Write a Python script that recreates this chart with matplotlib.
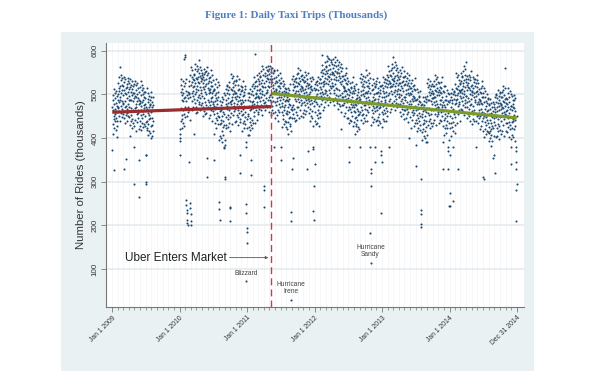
import matplotlib
matplotlib.use("Agg")
import matplotlib.pyplot as plt
import pandas as pd
from matplotlib.patches import Rectangle

# ---------------- data: daily taxi rides (thousands), one list per month -------------
r2009_01 = [372, 470, 433, 498, 463, 410, 486, 450, 513, 443, 327, 478, 423, 466, 503, 438, 455, 492, 418, 481, 461, 508, 446, 428, 473, 497, 440, 459, 402, 488, 468]
r2009_02 = [472, 527, 500, 450, 514, 540, 482, 462, 507, 563, 487, 440, 520, 495, 474, 532, 457, 504, 544, 467, 484, 522, 447, 510, 537, 478, 498, 454]
r2009_03 = [520, 480, 445, 510, 540, 462, 330, 528, 435, 504, 470, 534, 484, 514, 452, 352, 474, 500, 458, 524, 492, 440, 516, 466, 538, 478, 506, 450, 530, 486, 512]
r2009_04 = [472, 526, 448, 496, 430, 516, 486, 405, 534, 440, 506, 468, 522, 452, 488, 422, 512, 498, 444, 530, 464, 504, 434, 484, 518, 380, 492, 428, 524, 295]
r2009_05 = [504, 468, 531, 461, 496, 441, 479, 521, 416, 494, 471, 509, 454, 484, 436, 501, 526, 464, 446, 491, 514, 458, 478, 421, 506, 486, 265, 350, 516, 481, 428]
r2009_06 = [440, 485, 530, 465, 418, 498, 473, 452, 510, 435, 482, 522, 445, 462, 500, 425, 488, 515, 456, 476, 432, 495, 468, 506, 450, 505, 478, 428, 492, 362]
r2009_07 = [470, 436, 362, 300, 295, 418, 514, 440, 466, 424, 490, 458, 406, 482, 432, 504, 444, 472, 416, 496, 452, 478, 486, 446, 411, 476, 506, 428, 461, 494, 401]
r2009_08 = [460, 430, 482, 405, 470, 445, 495, 415, 475, 440]

r2010_01 = [362, 400, 410, 392, 420, 534, 440, 506, 468, 522, 452, 488, 422, 512, 498, 444, 530, 464, 504, 434, 484, 518, 454, 492, 428, 580, 590, 585, 472, 526, 448]
r2010_02 = [493, 535, 258, 508, 485, 247, 235, 498, 450, 228, 212, 205, 460, 505, 201, 472, 492, 345, 520, 500, 502, 465, 530, 495, 442, 250, 240, 545]
r2010_03 = [225, 210, 200, 522, 562, 485, 502, 540, 465, 528, 555, 496, 516, 472, 535, 508, 546, 490, 545, 518, 410, 532, 558, 500, 480, 525, 570, 505, 458, 538, 513]
r2010_04 = [470, 535, 565, 487, 520, 553, 460, 529, 495, 559, 509, 539, 477, 578, 499, 525, 483, 549, 517, 465, 541, 491, 563, 503, 531, 475, 555, 511, 537, 545]
r2010_05 = [534, 496, 550, 480, 516, 450, 540, 526, 472, 558, 492, 532, 462, 512, 546, 482, 520, 456, 552, 506, 536, 500, 554, 476, 524, 458, 544, 310, 355, 562, 468]
r2010_06 = [525, 550, 488, 470, 515, 538, 482, 502, 445, 530, 510, 512, 475, 540, 505, 452, 528, 492, 555, 485, 520, 465, 503, 545, 440, 518, 495, 533, 478, 508]
r2010_07 = [462, 482, 350, 410, 474, 512, 456, 511, 484, 434, 498, 524, 466, 446, 491, 536, 471, 424, 504, 479, 458, 516, 441, 488, 528, 451, 468, 506, 431, 494, 521]
r2010_08 = [447, 395, 254, 237, 212, 433, 461, 405, 485, 441, 467, 475, 435, 400, 465, 495, 417, 450, 483, 390, 459, 425, 489, 439, 469, 407, 503, 429, 455, 380, 378]
r2010_09 = [385, 395, 310, 305, 499, 429, 479, 513, 449, 487, 423, 519, 473, 503, 467, 521, 443, 491, 425, 511, 481, 453, 529, 435, 501, 463, 517, 447, 483, 417]
r2010_10 = [240, 243, 211, 484, 547, 477, 512, 457, 495, 537, 432, 510, 487, 525, 470, 500, 452, 517, 542, 480, 462, 507, 530, 474, 494, 437, 522, 502, 504, 467, 532]
r2010_11 = [490, 440, 504, 530, 472, 452, 497, 542, 477, 430, 510, 485, 464, 522, 447, 494, 534, 457, 474, 512, 437, 500, 320, 360, 488, 444, 507, 480, 518, 462]
r2010_12 = [477, 510, 417, 486, 452, 516, 466, 496, 434, 530, 456, 482, 440, 506, 474, 422, 498, 448, 520, 460, 488, 432, 512, 380, 390, 249, 72, 228, 193, 422, 444]

r2011_01 = [184, 159, 470, 406, 502, 456, 486, 450, 504, 426, 474, 408, 494, 464, 436, 512, 418, 484, 446, 500, 430, 466, 315, 350, 476, 422, 508, 442, 482, 520, 434]
r2011_02 = [485, 523, 468, 498, 450, 515, 540, 478, 460, 593, 528, 472, 492, 435, 520, 500, 502, 465, 530, 495, 442, 518, 482, 545, 475, 510, 455, 493]
r2011_03 = [497, 535, 460, 523, 550, 491, 511, 467, 530, 503, 541, 485, 540, 513, 463, 527, 553, 495, 475, 520, 565, 500, 453, 533, 508, 487, 545, 470, 517, 557, 480]
r2011_04 = [289, 280, 241, 499, 525, 483, 549, 517, 465, 541, 491, 563, 503, 531, 475, 555, 511, 537, 545, 505, 470, 535, 565, 487, 520, 553, 460, 529, 495, 559]
r2011_05 = [546, 516, 488, 564, 470, 536, 498, 552, 482, 518, 452, 542, 528, 474, 560, 494, 534, 464, 514, 548, 484, 522, 458, 554, 508, 538, 502, 556, 380, 526, 460]
r2011_06 = [482, 502, 445, 530, 510, 512, 475, 540, 505, 452, 528, 492, 555, 485, 520, 465, 503, 545, 440, 518, 495, 533, 478, 508, 460, 525, 550, 488, 470, 515]
r2011_07 = [500, 526, 380, 350, 493, 538, 473, 426, 506, 481, 460, 518, 443, 490, 530, 453, 470, 508, 433, 496, 523, 464, 484, 440, 503, 476, 514, 458, 513, 486, 436]
r2011_08 = [425, 505, 461, 487, 495, 455, 420, 485, 515, 437, 470, 503, 410, 479, 445, 509, 459, 489, 427, 523, 449, 475, 433, 499, 467, 415, 230, 30, 209, 445, 472]
r2011_09 = [534, 464, 330, 355, 524, 510, 456, 542, 476, 516, 446, 496, 530, 466, 504, 440, 536, 490, 520, 484, 538, 460, 508, 442, 528, 498, 470, 546, 452, 518]
r2011_10 = [560, 490, 525, 470, 508, 550, 445, 523, 500, 538, 483, 513, 465, 530, 555, 493, 475, 520, 543, 487, 507, 450, 535, 515, 517, 480, 545, 510, 457, 533, 497]
r2011_11 = [495, 448, 528, 503, 482, 540, 465, 512, 552, 475, 492, 530, 455, 518, 545, 486, 506, 462, 525, 498, 536, 480, 330, 370, 522, 548, 490, 470, 515, 485]
r2011_12 = [500, 458, 524, 492, 440, 516, 466, 538, 478, 506, 450, 530, 486, 512, 520, 480, 445, 510, 540, 462, 495, 428, 375, 233, 380, 534, 484, 514, 212, 290, 474]

r2012_01 = [340, 509, 439, 489, 523, 459, 497, 433, 529, 483, 513, 477, 531, 453, 501, 435, 521, 491, 463, 539, 445, 511, 473, 527, 457, 493, 427, 517, 503, 449, 535]
r2012_02 = [458, 536, 513, 551, 496, 526, 478, 543, 568, 506, 488, 590, 556, 500, 520, 463, 548, 528, 530, 493, 558, 523, 470, 546, 510, 573, 503, 538, 483]
r2012_03 = [553, 526, 564, 508, 563, 536, 486, 550, 576, 588, 498, 543, 584, 523, 476, 556, 531, 510, 568, 493, 540, 580, 503, 520, 558, 483, 546, 573, 514, 534, 490]
r2012_04 = [578, 518, 546, 490, 570, 526, 552, 560, 520, 485, 550, 580, 502, 535, 568, 475, 544, 510, 574, 524, 554, 492, 585, 514, 540, 498, 564, 532, 480, 548]
r2012_05 = [579, 485, 551, 513, 567, 497, 533, 467, 557, 543, 489, 575, 509, 549, 479, 529, 563, 499, 537, 473, 569, 523, 553, 420, 460, 493, 541, 475, 561, 531, 503]
r2012_06 = [493, 475, 520, 543, 487, 507, 450, 535, 515, 517, 480, 545, 510, 457, 533, 497, 560, 490, 525, 470, 508, 550, 445, 523, 500, 538, 483, 513, 465, 530]
r2012_07 = [445, 492, 345, 380, 472, 510, 435, 498, 525, 466, 486, 442, 505, 478, 516, 460, 515, 488, 438, 502, 528, 470, 450, 495, 540, 475, 428, 508, 483, 462, 520]
r2012_08 = [515, 437, 470, 503, 410, 479, 445, 509, 459, 489, 427, 523, 449, 475, 433, 499, 467, 415, 491, 441, 513, 453, 481, 425, 505, 461, 487, 495, 455, 420, 485]
r2012_09 = [490, 380, 484, 538, 460, 508, 442, 528, 498, 470, 546, 452, 518, 480, 534, 464, 500, 434, 524, 510, 456, 542, 476, 516, 446, 496, 530, 466, 504, 440]
r2012_10 = [475, 540, 505, 452, 528, 492, 555, 485, 520, 465, 503, 545, 440, 518, 495, 533, 478, 508, 460, 525, 550, 488, 470, 515, 538, 482, 502, 380, 182, 114, 290]
r2012_11 = [330, 320, 477, 430, 510, 485, 464, 522, 447, 494, 534, 457, 474, 512, 437, 500, 527, 468, 488, 444, 345, 380, 518, 462, 517, 490, 440, 504, 530, 472]
r2012_12 = [524, 474, 504, 442, 538, 464, 490, 448, 514, 482, 430, 506, 456, 528, 468, 496, 440, 520, 476, 502, 510, 470, 435, 370, 228, 360, 485, 518, 425, 494, 460]

r2013_01 = [345, 522, 508, 454, 540, 474, 514, 444, 494, 528, 464, 502, 438, 534, 488, 518, 482, 536, 458, 506, 440, 526, 496, 468, 544, 450, 516, 478, 532, 462, 498]
r2013_02 = [523, 475, 540, 565, 503, 485, 530, 553, 380, 517, 460, 545, 525, 527, 490, 555, 520, 467, 543, 507, 570, 500, 535, 480, 518, 560, 585, 533]
r2013_03 = [550, 523, 473, 537, 563, 505, 485, 530, 575, 510, 463, 543, 518, 497, 555, 480, 527, 567, 490, 507, 545, 470, 533, 560, 501, 521, 477, 540, 513, 551, 495]
r2013_04 = [501, 527, 535, 495, 460, 525, 555, 477, 510, 543, 450, 519, 485, 549, 499, 529, 467, 563, 489, 515, 473, 539, 507, 455, 531, 481, 553, 493, 521, 465]
r2013_05 = [443, 539, 493, 523, 487, 541, 463, 511, 445, 531, 501, 473, 549, 455, 521, 483, 537, 467, 503, 437, 527, 513, 459, 545, 479, 519, 400, 499, 533, 469, 514]
r2013_06 = [502, 447, 485, 527, 422, 500, 477, 515, 460, 490, 442, 507, 532, 470, 452, 497, 520, 464, 484, 427, 512, 492, 494, 457, 522, 487, 434, 510, 474, 537]
r2013_07 = [488, 463, 442, 335, 385, 472, 512, 435, 452, 490, 415, 478, 505, 446, 466, 422, 485, 458, 496, 440, 495, 468, 418, 482, 508, 450, 430, 475, 306, 235, 226]
r2013_08 = [203, 197, 455, 413, 479, 447, 395, 471, 421, 493, 433, 461, 405, 485, 441, 467, 475, 435, 400, 465, 495, 417, 450, 483, 390, 459, 425, 489, 439, 469, 407]
r2013_09 = [526, 390, 496, 430, 516, 486, 458, 534, 440, 506, 468, 522, 452, 488, 422, 512, 498, 444, 530, 464, 504, 434, 484, 518, 454, 492, 428, 524, 478, 508]
r2013_10 = [492, 435, 520, 500, 502, 465, 530, 495, 442, 518, 482, 545, 475, 510, 455, 493, 535, 430, 508, 485, 523, 468, 498, 450, 515, 540, 478, 460, 505, 528, 472]
r2013_11 = [455, 472, 510, 435, 498, 525, 466, 486, 442, 505, 478, 516, 460, 515, 488, 438, 502, 528, 470, 450, 495, 540, 475, 428, 508, 483, 330, 390, 462, 520]
r2013_12 = [407, 476, 442, 506, 456, 486, 424, 520, 446, 472, 430, 496, 464, 412, 488, 438, 510, 450, 478, 422, 502, 458, 484, 380, 330, 370, 395, 482, 434, 245, 500]

r2014_01 = [360, 275, 245, 422, 488, 450, 504, 434, 470, 404, 494, 480, 426, 512, 446, 486, 416, 466, 500, 436, 255, 380, 506, 460, 490, 454, 508, 430, 478, 412, 498]
r2014_02 = [447, 523, 487, 550, 480, 515, 460, 498, 540, 435, 513, 490, 330, 473, 503, 455, 520, 545, 483, 465, 510, 533, 477, 497, 440, 525, 505, 507]
r2014_03 = [523, 550, 491, 511, 467, 530, 503, 541, 485, 540, 513, 463, 527, 553, 495, 475, 520, 565, 500, 453, 533, 508, 487, 545, 470, 517, 557, 480, 497, 535, 575]
r2014_04 = [529, 497, 445, 521, 471, 543, 483, 511, 455, 535, 491, 517, 525, 485, 450, 515, 545, 467, 500, 533, 440, 509, 475, 539, 489, 519, 457, 553, 479, 505]
r2014_05 = [462, 498, 432, 522, 508, 454, 540, 474, 514, 444, 494, 528, 464, 502, 438, 534, 488, 518, 482, 536, 458, 506, 440, 526, 496, 380, 544, 450, 516, 478, 532]
r2014_06 = [508, 453, 483, 435, 500, 525, 463, 445, 490, 513, 457, 477, 420, 505, 485, 487, 450, 515, 480, 427, 503, 467, 530, 460, 495, 440, 478, 520, 415, 493]
r2014_07 = [503, 445, 310, 305, 515, 450, 403, 483, 458, 437, 495, 420, 467, 507, 430, 447, 485, 410, 473, 500, 441, 461, 417, 480, 453, 491, 435, 490, 463, 413, 477]
r2014_08 = [412, 476, 426, 456, 394, 490, 416, 442, 400, 466, 434, 382, 458, 408, 480, 420, 448, 392, 472, 428, 454, 462, 422, 355, 452, 482, 404, 437, 470, 360, 446]
r2014_09 = [479, 320, 459, 493, 429, 467, 403, 499, 453, 483, 447, 501, 423, 471, 405, 491, 461, 433, 509, 415, 481, 443, 497, 427, 463, 397, 487, 473, 419, 505]
r2014_10 = [480, 503, 447, 467, 410, 495, 475, 477, 440, 505, 470, 417, 493, 457, 520, 450, 485, 430, 468, 510, 405, 483, 460, 498, 443, 473, 560, 490, 515, 455, 435]
r2014_11 = [461, 417, 480, 453, 491, 435, 490, 463, 413, 477, 503, 445, 425, 470, 515, 450, 403, 483, 458, 437, 495, 420, 467, 507, 430, 447, 340, 380, 473, 500]
r2014_12 = [398, 474, 424, 496, 436, 464, 408, 488, 444, 470, 478, 438, 403, 468, 498, 420, 453, 486, 393, 462, 428, 492, 442, 370, 210, 280, 345, 330, 380, 295, 450]

# trend lines (fitted values)
uber_entry = "2011-05-10"
pre_trend_dates = ["2009-01-01", uber_entry]
pre_trend_vals = [459, 472]
post_trend_dates = [uber_entry, "2014-12-31"]
post_trend_vals = [502, 446]

# ticks
xtick_dates = ["2009-01-01", "2010-01-01", "2011-01-01", "2012-01-01", "2013-01-01", "2014-01-01", "2014-12-31"]
xtick_labels = ["Jan 1 2009", "Jan 1 2010", "Jan 1 2011", "Jan 1 2012", "Jan 1 2013", "Jan 1 2014", "Dec 31 2014"]
ytick_vals = [100, 200, 300, 400, 500, 600]

# annotated events: (label, date, value of the marked day)
events = [("Blizzard", "2010-12-27", 72), ("Hurricane\nIrene", "2011-08-28", 30), ("Hurricane\nSandy", "2012-10-30", 114)]

month_lists = [
    ("2009-01-01", r2009_01), ("2009-02-01", r2009_02), ("2009-03-01", r2009_03), ("2009-04-01", r2009_04),
    ("2009-05-01", r2009_05), ("2009-06-01", r2009_06), ("2009-07-01", r2009_07), ("2009-08-01", r2009_08),
    ("2010-01-01", r2010_01), ("2010-02-01", r2010_02), ("2010-03-01", r2010_03), ("2010-04-01", r2010_04),
    ("2010-05-01", r2010_05), ("2010-06-01", r2010_06), ("2010-07-01", r2010_07), ("2010-08-01", r2010_08),
    ("2010-09-01", r2010_09), ("2010-10-01", r2010_10), ("2010-11-01", r2010_11), ("2010-12-01", r2010_12),
    ("2011-01-01", r2011_01), ("2011-02-01", r2011_02), ("2011-03-01", r2011_03), ("2011-04-01", r2011_04),
    ("2011-05-01", r2011_05), ("2011-06-01", r2011_06), ("2011-07-01", r2011_07), ("2011-08-01", r2011_08),
    ("2011-09-01", r2011_09), ("2011-10-01", r2011_10), ("2011-11-01", r2011_11), ("2011-12-01", r2011_12),
    ("2012-01-01", r2012_01), ("2012-02-01", r2012_02), ("2012-03-01", r2012_03), ("2012-04-01", r2012_04),
    ("2012-05-01", r2012_05), ("2012-06-01", r2012_06), ("2012-07-01", r2012_07), ("2012-08-01", r2012_08),
    ("2012-09-01", r2012_09), ("2012-10-01", r2012_10), ("2012-11-01", r2012_11), ("2012-12-01", r2012_12),
    ("2013-01-01", r2013_01), ("2013-02-01", r2013_02), ("2013-03-01", r2013_03), ("2013-04-01", r2013_04),
    ("2013-05-01", r2013_05), ("2013-06-01", r2013_06), ("2013-07-01", r2013_07), ("2013-08-01", r2013_08),
    ("2013-09-01", r2013_09), ("2013-10-01", r2013_10), ("2013-11-01", r2013_11), ("2013-12-01", r2013_12),
    ("2014-01-01", r2014_01), ("2014-02-01", r2014_02), ("2014-03-01", r2014_03), ("2014-04-01", r2014_04),
    ("2014-05-01", r2014_05), ("2014-06-01", r2014_06), ("2014-07-01", r2014_07), ("2014-08-01", r2014_08),
    ("2014-09-01", r2014_09), ("2014-10-01", r2014_10), ("2014-11-01", r2014_11), ("2014-12-01", r2014_12),
]

xs, ys = [], []
for start, vals in month_lists:
    xs.extend(pd.date_range(start, periods=len(vals), freq="D"))
    ys.extend(vals)

# ---------------- figure ----------------
plt.rcParams["font.family"] = ["Liberation Sans", "DejaVu Sans"]
W, H = 596, 376
fig = plt.figure(figsize=(W / 100, H / 100), dpi=100)
fig.patch.set_facecolor("white")

# outer graph region (Stata-like light blue-gray)
fig.patches.append(Rectangle((61 / W, 1 - 371 / H), (534 - 61) / W, (371 - 32) / H,
                             transform=fig.transFigure, facecolor="#eaf1f3", edgecolor="none", zorder=0))

ax = fig.add_axes([106 / W, 1 - 306.7 / H, (524 - 106) / W, (306.7 - 43) / H])
ax.set_facecolor("white")
ax.set_zorder(1)

ax.set_xlim(pd.Timestamp("2008-11-28"), pd.Timestamp("2015-02-08"))
ax.set_ylim(13.6, 617.6)

# faint monthly vertical lines and horizontal grid
for d in pd.date_range("2009-01-01", "2014-12-01", freq="MS"):
    ax.axvline(d, color="#f3f5f7", lw=0.6, zorder=0)
for v in ytick_vals:
    ax.axhline(v, color="#e3eaee", lw=1.1, zorder=0)

ax.scatter(xs, ys, s=2.2, color="#1a476f", linewidths=0, zorder=2)

ax.plot(pd.to_datetime(pre_trend_dates), pre_trend_vals, color="#9b2b2c", lw=2.3, zorder=3, solid_capstyle="butt")
ax.plot(pd.to_datetime(post_trend_dates), post_trend_vals, color="#7c9a2a", lw=2.3, zorder=3, solid_capstyle="butt")

ax.axvline(pd.Timestamp(uber_entry), color="#d2334f", lw=1.0, ls=(0, (5, 3)), zorder=4)

# annotations
ax.annotate("Uber Enters Market", xy=(pd.Timestamp("2011-04-26"), 126), xytext=(pd.Timestamp("2009-03-11"), 126),
            ha="left", va="center", fontsize=8.5, color="#222222",
            arrowprops=dict(arrowstyle="-|>", color="#555555", lw=0.6, mutation_scale=4, shrinkA=0, shrinkB=0))
offsets = {"Blizzard": 3.0, "Hurricane\nIrene": 3.0, "Hurricane\nSandy": 3.3}
for label, date, val in events:
    ax.annotate(label, xy=(pd.Timestamp(date), val), xytext=(0, offsets[label]), textcoords="offset points",
                ha="center", va="bottom", fontsize=4.8, color="#444444", linespacing=1.05)

# axes styling
for side in ["top", "right"]:
    ax.spines[side].set_visible(False)
for side in ["left", "bottom"]:
    ax.spines[side].set_color("#777777")
    ax.spines[side].set_linewidth(0.8)

ax.set_yticks(ytick_vals)
ax.set_yticklabels([str(v) for v in ytick_vals], rotation=90, va="center", fontsize=5.8, color="#333333")
ax.tick_params(axis="y", length=3.5, width=0.6, color="#777777", pad=2)

ax.set_xticks(pd.to_datetime(xtick_dates))
ax.set_xticklabels(xtick_labels, rotation=45, ha="right", va="top", rotation_mode="anchor", fontsize=4.9, color="#333333")
ax.set_xticks(pd.date_range("2009-01-01", "2014-12-01", freq="MS"), minor=True)
ax.tick_params(axis="x", which="major", length=3.5, width=0.6, color="#777777", pad=2)
ax.tick_params(axis="x", which="minor", length=2.2, width=0.5, color="#777777")

ax.set_ylabel("Number of Rides (thousands)", fontsize=8.2, color="#333333", labelpad=4)

fig.text(0.497, 1 - 15 / H, "Figure 1: Daily Taxi Trips (Thousands)", ha="center", va="center",
         fontsize=7.9, fontweight="bold", color="#4f7fc0", family=["Liberation Serif", "DejaVu Serif"])

fig.savefig("out.png", dpi=100, facecolor="white")
